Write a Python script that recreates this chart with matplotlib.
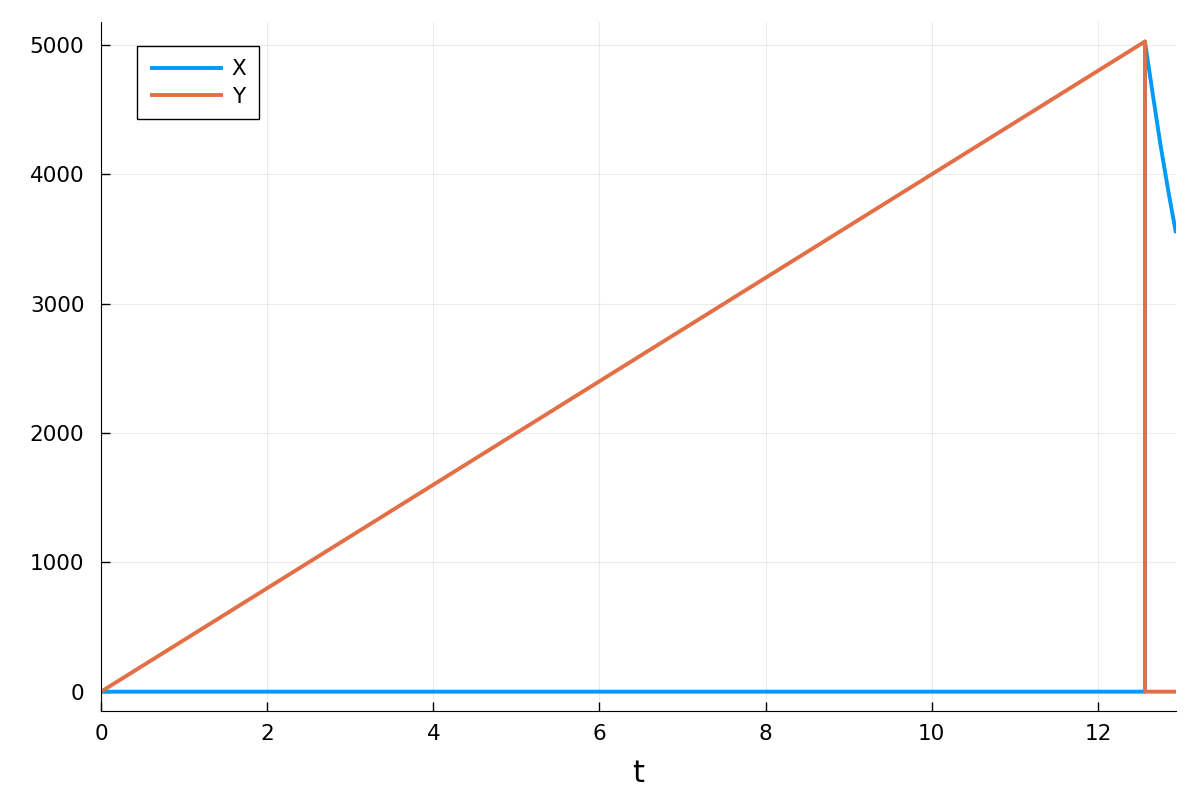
import matplotlib
matplotlib.use('Agg')
import matplotlib.pyplot as plt

# values
tX = [0.0, 12.566, 12.566, 12.66, 12.75, 12.85, 12.94]
X = [0.0, 0.0, 5026.0, 4620.0, 4240.0, 3860.0, 3545.0]
tY = [0.0, 12.566, 12.566, 12.94]
Y = [0.0, 5026.0, 0.0, 0.0]
xticks = [0, 2, 4, 6, 8, 10, 12]
yticks = [0, 1000, 2000, 3000, 4000, 5000]

plt.rcParams['font.family'] = ['DejaVu Sans']

fig = plt.figure(figsize=(12, 8), dpi=100)
ax = fig.add_axes([0.0842, 0.111, 0.8958, 0.8615])

ax.plot(tX, X, color='#009AFA', lw=2.8, label='X', solid_capstyle='butt')
ax.plot(tY, Y, color='#E26F46', lw=2.8, label='Y', solid_capstyle='butt')

ax.set_xlim(0, 12.94)
ax.set_ylim(-151, 5177)
ax.set_xticks(xticks)
ax.set_yticks(yticks)
ax.grid(True, color='black', alpha=0.08, lw=0.8)
ax.spines['top'].set_visible(False)
ax.spines['right'].set_visible(False)
ax.tick_params(direction='in', length=6.5, labelsize=15.5, width=1)
ax.tick_params(axis='y', pad=12)
ax.tick_params(axis='x', pad=9)
ax.set_xlabel('t', fontsize=22, labelpad=11)

leg = ax.legend(loc='upper left', bbox_to_anchor=(0.0335, 0.965), fontsize=15.5,
                fancybox=False, framealpha=1, edgecolor='black',
                handlelength=3.4, handletextpad=0.4, borderpad=0.6,
                labelspacing=0.35, borderaxespad=0)
leg.get_frame().set_linewidth(1)

fig.savefig('out.png', dpi=100)
